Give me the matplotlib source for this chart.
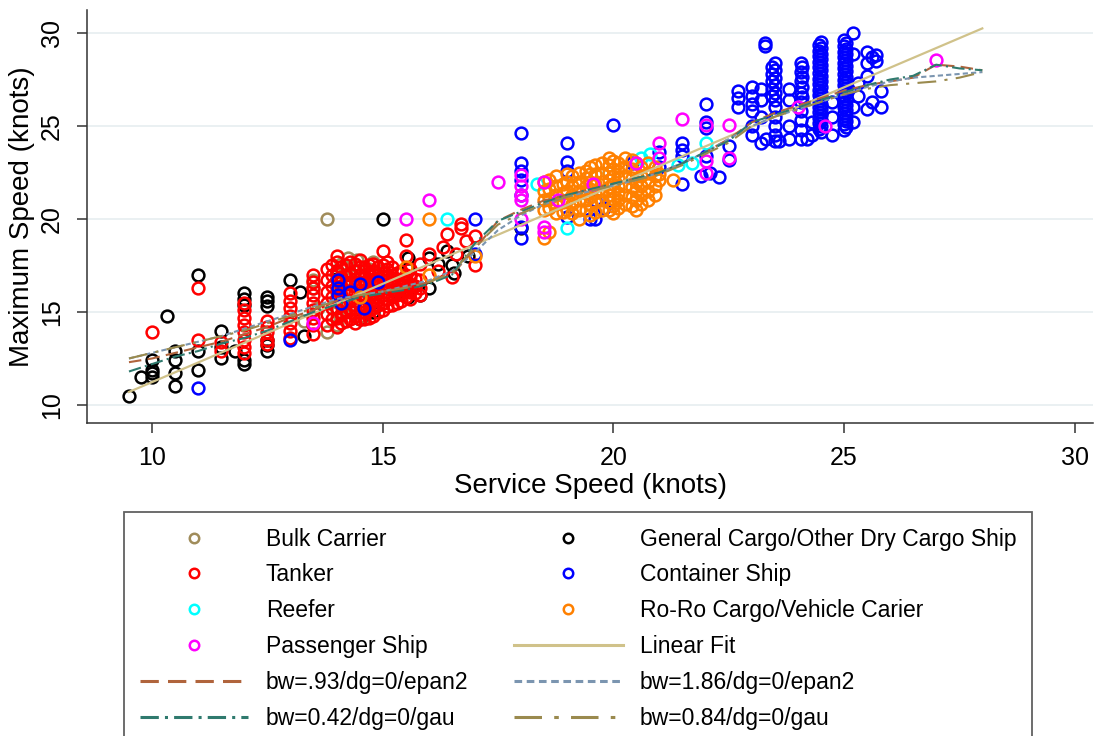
import matplotlib.pyplot as plt

plt.rcParams['font.family'] = ['Liberation Sans', 'DejaVu Sans']

# ship data: (service speed, [maximum speeds]) in knots
bulk = [(13.3, [14.5]), (13.5, [16.3, 16.7]), (13.6, [15.2]), (13.8, [20.0, 13.9]),
        (14.0, [14.3, 15.0, 16.0]), (14.1, [17.6]), (14.2, [16.8, 17.4]), (14.25, [17.9]),
        (14.3, [15.4]), (14.4, [17.5]), (14.45, [17.8]), (14.5, [16.2, 17.0]), (14.6, [14.8]),
        (14.7, [17.3]), (14.8, [17.7, 16.5]), (15.0, [17.2, 15.5]), (15.2, [16.8])]

general = [(9.5, [10.5]), (9.75, [11.5]), (10.0, [11.5, 11.7, 11.9, 12.4]), (10.33, [14.8]),
           (10.5, [11.0, 11.7, 12.4, 12.9]), (11.0, [17.0, 12.9, 11.9]), (11.5, [14.0, 13.1, 12.5]),
           (11.8, [12.9]), (12.0, [16.0, 15.7, 15.4, 12.4, 12.2]),
           (12.5, [15.8, 15.6, 15.3, 13.5, 13.2, 12.9]), (13.0, [16.7]), (13.2, [16.1]),
           (13.3, [13.7]), (14.0, [17.2, 16.8]), (14.5, [14.6]), (14.8, [15.0]), (15.0, [20.0]),
           (15.3, [16.1]), (15.55, [17.9, 17.3, 15.8]), (15.8, [15.9]), (16.0, [17.9, 16.3]),
           (16.2, [17.6]), (16.4, [18.3]), (16.5, [17.5]), (16.55, [17.1]), (16.85, [18.0]),
           (18.0, [19.5])]

tanker = [(10.0, [13.9]), (11.0, [16.3, 13.5]), (11.5, [12.9, 13.4]),
          (12.0, [15.5, 15.1, 14.7, 14.3, 13.9, 13.5, 13.1, 12.8]),
          (12.5, [14.5, 14.2, 13.9, 13.5, 13.3]),
          (13.0, [16.0, 15.6, 15.2, 14.8, 14.4, 14.0, 13.6]),
          (13.5, [17.0, 16.6, 16.3, 15.9, 15.5, 15.1, 14.7, 14.3, 13.8]),
          (13.8, [14.3, 14.9, 15.5, 16.1, 16.7, 17.3]),
          (13.9, [14.6, 15.2, 15.8, 16.4, 17.0, 17.5]),
          (14.0, [14.2, 14.7, 15.2, 15.7, 16.2, 16.7, 17.2, 17.7, 18.0]),
          (14.1, [14.4, 14.9, 15.4, 15.9, 16.4, 16.9, 17.4]),
          (14.2, [14.5, 15.0, 15.5, 16.0, 16.5, 17.0, 17.5]),
          (14.3, [14.6, 15.1, 15.6, 16.1, 16.6, 17.1, 17.7]),
          (14.4, [14.4, 14.8, 15.2, 15.6, 16.0, 16.4, 16.8, 17.2, 17.6]),
          (14.5, [14.6, 15.0, 15.4, 15.8, 16.2, 16.6, 17.0, 17.4, 17.8]),
          (14.6, [14.6, 15.0, 15.4, 15.8, 16.2, 16.6, 17.0, 17.4]),
          (14.7, [14.7, 15.1, 15.5, 15.9, 16.3, 16.7, 17.1, 17.5]),
          (14.8, [14.8, 15.2, 15.6, 16.0, 16.4, 16.8, 17.2, 17.6]),
          (14.9, [15.0, 15.4, 15.8, 16.2, 16.6, 17.0, 17.4]),
          (15.0, [15.1, 15.5, 15.9, 16.3, 16.7, 17.1, 17.5, 18.3]),
          (15.1, [15.3, 15.7, 16.1, 16.5, 16.9, 17.3, 17.7]),
          (15.2, [15.4, 15.8, 16.2, 16.6, 17.0, 17.4]),
          (15.3, [15.5, 15.9, 16.3, 16.7, 17.1]),
          (15.4, [15.6, 16.0, 16.4, 16.8, 17.2]),
          (15.5, [18.85, 18.0, 15.8, 16.2, 16.6, 17.0]),
          (15.6, [15.7, 16.1, 16.5, 16.9, 17.3]),
          (15.7, [16.0, 16.4, 16.8]),
          (15.8, [15.9, 16.3, 16.7, 17.6]),
          (16.0, [18.1]), (16.2, [17.2]), (16.3, [18.5]), (16.4, [19.2]), (16.5, [16.9]),
          (16.6, [18.1]), (16.7, [19.75, 19.5]), (16.8, [18.8]), (17.0, [19.1, 17.5])]

container = [(11.0, [10.9]), (13.0, [13.5]), (14.04, [16.7, 16.3, 15.9]), (14.1, [15.5]),
             (14.3, [16.1]), (14.5, [16.5]), (14.6, [15.2]), (14.9, [16.6]), (17.0, [20.0, 18.1]),
             (18.0, [24.6, 23.0, 22.6, 22.1, 21.3, 19.55, 19.0]),
             (19.0, [24.1, 23.05, 22.6, 20.1]), (19.5, [20.0]), (19.6, [21.0, 20.0]),
             (19.8, [20.6]), (20.0, [25.05]), (20.4, [23.0]), (21.0, [23.6, 22.8]),
             (21.5, [24.1, 23.7, 23.4, 21.9]), (21.9, [22.3]), (22.0, [26.2, 25.2, 24.9, 23.4]),
             (22.1, [22.5]), (22.3, [22.25]), (22.5, [23.9, 23.2]), (22.7, [26.9, 26.5, 26.0]),
             (23.0, [27.1, 26.6, 26.2, 25.8, 25.0, 24.5]), (23.2, [27.0, 26.4, 25.5, 24.1]),
             (23.28, [29.47, 29.3]), (23.3, [24.3]),
             (23.45, [28.2, 27.8, 27.4, 27.0, 26.6]),
             (23.5, [28.4, 28.0, 27.6, 27.2, 26.8, 26.4, 26.0, 25.5, 25.0, 24.5, 24.2]),
             (23.6, [24.2]), (23.8, [27.0, 26.4, 25.0, 24.3]),
             (24.08, [28.4, 27.9, 27.4, 26.8, 26.3, 25.8, 25.3, 24.8, 24.3]),
             (24.1, [28.15, 27.65, 27.1, 26.55]),
             (24.2, [24.3]), (24.3, [24.5, 25.2]),
             (24.45, [29.35, 29.05, 28.75, 28.45, 28.15, 27.85, 27.55, 27.25, 26.95, 26.65,
                      26.35, 26.05, 25.75, 25.45, 25.15, 24.85]),
             (24.5, [29.5, 29.2, 28.9, 28.6, 28.3, 28.0, 27.7, 27.4, 27.1, 26.8, 26.5, 26.2,
                     25.9, 25.6, 25.3, 25.0, 24.7]),
             (24.75, [24.5, 25.5, 26.3]),
             (25.0, [29.6, 29.3, 29.0, 28.7, 28.4, 28.1, 27.8, 27.5, 27.2, 26.9, 26.6, 26.3,
                     26.0, 25.7, 25.4, 25.1, 24.8]),
             (25.05, [29.45, 29.15, 28.85, 28.55, 28.25, 27.95, 27.65, 27.35, 27.05, 26.75,
                      26.45, 26.15, 25.85, 25.55, 25.25, 24.95]),
             (25.2, [30.0, 28.9, 26.0, 25.2]), (25.3, [27.3, 26.6]), (25.5, [29.0, 28.4, 27.7, 25.9]),
             (25.6, [28.7, 26.3]), (25.7, [28.8, 28.5]), (25.8, [26.9, 26.0])]

reefer = [(16.4, [20.0]), (18.35, [21.9]), (19.0, [19.5]), (19.9, [22.5]), (20.6, [23.3]),
          (20.8, [23.5]), (21.4, [22.9]), (21.7, [23.0]), (22.0, [24.1])]

roro = [(14.5, [15.8]), (15.5, [17.4]), (16.0, [20.0, 17.0]), (17.0, [18.0]),
        (18.5, [19.0, 20.5, 21.0, 21.5, 22.0]), (18.6, [19.3, 20.6, 21.1, 21.6, 22.1]),
        (18.75, [20.3, 20.8, 21.3, 21.8, 22.3]), (18.9, [20.4, 20.9, 21.4, 21.9]),
        (19.0, [20.5, 21.0, 21.5, 22.0, 22.4]), (19.1, [20.3, 20.8, 21.3, 21.8, 22.3]),
        (19.25, [20.0, 20.5, 21.0, 21.5, 22.0, 22.5]),
        (19.4, [20.5, 21.0, 21.4, 21.8, 22.2, 22.6]),
        (19.5, [20.2, 20.8, 21.2, 21.6, 22.0, 22.4, 22.8]),
        (19.6, [20.4, 20.9, 21.4, 21.9, 22.4, 22.9]),
        (19.75, [20.5, 21.0, 21.5, 22.0, 22.5, 23.0]),
        (19.9, [20.5, 20.9, 21.3, 21.7, 22.1, 22.5, 22.9, 23.3]),
        (20.0, [20.3, 20.7, 21.1, 21.5, 21.9, 22.3, 22.7, 23.1]),
        (20.1, [20.6, 21.0, 21.4, 21.8, 22.2, 22.6, 23.0]),
        (20.25, [20.8, 21.3, 21.8, 22.3, 22.8, 23.3]),
        (20.4, [20.7, 21.2, 21.7, 22.2, 22.7, 23.2]),
        (20.5, [20.5, 21.0, 21.5, 22.0, 22.5, 23.0]),
        (20.6, [20.8, 21.3, 21.8, 22.3, 22.8]),
        (20.75, [21.0, 21.5, 22.0, 22.5, 23.0]), (20.9, [21.3, 21.8, 22.3, 22.8]),
        (21.0, [22.1, 22.4]), (21.3, [22.1])]

passenger = [(13.5, [14.4]), (15.5, [20.0]), (16.0, [21.0]), (17.5, [22.0]),
             (18.0, [22.35, 21.8, 21.3, 21.0, 20.0]), (18.5, [22.0, 19.55, 19.3]), (18.8, [21.0]),
             (19.55, [21.9]), (20.5, [23.0]), (21.0, [24.1, 23.3]), (21.5, [25.4]),
             (22.0, [25.05, 23.1, 22.5]), (22.5, [25.05, 23.3]), (24.0, [26.0]), (24.6, [25.0]),
             (27.0, [28.55])]

# fitted lines
fit_x = [9.5, 28.0]
fit_y = [10.7, 30.25]

kern_x = [9.5, 10, 10.5, 11, 11.5, 12, 12.5, 13, 13.5, 14, 14.5, 15, 15.5, 16, 16.5, 17, 17.5,
          18, 18.5, 19, 19.5, 20, 20.5, 21, 21.5, 22, 22.5, 23, 23.5, 24, 24.5, 25, 25.5, 26,
          26.5, 27, 27.5, 28]
bw093_epan = [12.3, 12.5, 12.8, 13.1, 13.4, 13.8, 14.2, 14.7, 15.1, 15.6, 15.9, 16.1, 16.3, 16.6,
              17.0, 18.4, 19.9, 20.5, 21.0, 21.3, 21.6, 21.9, 22.2, 22.5, 23.0, 23.6, 24.3, 25.2,
              25.7, 26.1, 26.5, 26.9, 27.2, 27.4, 27.6, 28.3, 28.2, 28.0]
bw186_epan = [12.5, 12.8, 13.1, 13.4, 13.7, 14.1, 14.5, 14.9, 15.3, 15.7, 15.9, 16.1, 16.4, 16.7,
              17.2, 18.2, 19.4, 20.2, 20.8, 21.2, 21.5, 21.8, 22.1, 22.5, 23.0, 23.6, 24.3, 25.0,
              25.5, 25.9, 26.3, 26.7, 27.1, 27.4, 27.6, 27.7, 27.8, 27.9]
bw042_gau = [11.8, 12.2, 12.6, 12.9, 13.3, 13.6, 14.0, 14.5, 15.0, 15.4, 15.8, 16.0, 16.2, 16.5,
             17.0, 18.7, 19.9, 20.4, 20.9, 21.3, 21.6, 21.9, 22.2, 22.5, 23.0, 23.6, 24.2, 25.2,
             25.6, 26.0, 26.4, 26.8, 27.2, 27.5, 27.7, 28.3, 28.1, 28.0]
bw084_gau = [12.5, 12.8, 13.1, 13.4, 13.7, 14.0, 14.4, 14.8, 15.2, 15.6, 15.9, 16.1, 16.3, 16.6,
             17.1, 18.5, 19.7, 20.3, 20.8, 21.2, 21.5, 21.8, 22.1, 22.4, 22.9, 23.5, 24.1, 25.0,
             25.5, 25.9, 26.3, 26.7, 27.0, 27.2, 27.3, 27.4, 27.6, 27.9]


def unpack(cols):
    xs, ys = [], []
    for x, vals in cols:
        for v in vals:
            xs.append(x)
            ys.append(v)
    return xs, ys


fig = plt.figure(figsize=(10.95, 7.36), dpi=100)
ax = fig.add_axes([87 / 1095, 1 - 423 / 736, 1006 / 1095, 413 / 736])

groups = [
    (bulk, '#a08c5a', 'Bulk Carrier'),
    (general, 'black', 'General Cargo/Other Dry Cargo Ship'),
    (tanker, '#ff0000', 'Tanker'),
    (container, '#0000ff', 'Container Ship'),
    (reefer, '#00ffff', 'Reefer'),
    (roro, '#ff8000', 'Ro-Ro Cargo/Vehicle Carier'),
    (passenger, '#ff00ff', 'Passenger Ship'),
]
h = {}
for cols, col, name in groups:
    xs, ys = unpack(cols)
    h[name], = ax.plot(xs, ys, 'o', mfc='none', mec=col, ms=8.5, mew=1.8, label=name)

h['Linear Fit'], = ax.plot(fit_x, fit_y, color='#d0c28a', lw=1.6, label='Linear Fit')
h['bw=.93/dg=0/epan2'], = ax.plot(kern_x, bw093_epan, color='#b0643c', lw=1.5,
                                  ls=(0, (6, 3)), label='bw=.93/dg=0/epan2')
h['bw=1.86/dg=0/epan2'], = ax.plot(kern_x, bw186_epan, color='#7b95b0', lw=1.5,
                                   ls=(0, (2.5, 1.5)), label='bw=1.86/dg=0/epan2')
h['bw=0.42/dg=0/gau'], = ax.plot(kern_x, bw042_gau, color='#2f7a6e', lw=1.5,
                                 ls=(0, (6, 2, 1, 2)), label='bw=0.42/dg=0/gau')
h['bw=0.84/dg=0/gau'], = ax.plot(kern_x, bw084_gau, color='#9a8a4e', lw=1.5,
                                 ls=(0, (9, 4, 1.5, 4)), label='bw=0.84/dg=0/gau')

ax.set_xlim(8.59, 30.4)
ax.set_ylim(9.03, 31.24)
ax.set_xticks([10, 15, 20, 25, 30])
ax.set_yticks([10, 15, 20, 25, 30])
ax.yaxis.grid(True, color='#e6eef0', lw=1.2)
ax.set_axisbelow(True)
for s in ['top', 'right']:
    ax.spines[s].set_visible(False)
for s in ['left', 'bottom']:
    ax.spines[s].set_color('#333333')
    ax.spines[s].set_linewidth(1.1)
ax.tick_params(direction='out', length=7.5, width=1.1, color='#333333', labelsize=18, pad=9)
plt.setp(ax.get_yticklabels(), rotation=90, va='center')
ax.set_xlabel('Service Speed (knots)', fontsize=20, labelpad=2)
ax.set_ylabel('Maximum Speed (knots)', fontsize=20, labelpad=4)

order = ['Bulk Carrier', 'Tanker', 'Reefer', 'Passenger Ship', 'bw=.93/dg=0/epan2',
         'bw=0.42/dg=0/gau', 'General Cargo/Other Dry Cargo Ship', 'Container Ship',
         'Ro-Ro Cargo/Vehicle Carier', 'Linear Fit', 'bw=1.86/dg=0/epan2', 'bw=0.84/dg=0/gau']
leg = fig.legend([h[k] for k in order], order, loc='upper left',
                 bbox_to_anchor=(124 / 1095, 1 - 512 / 736), ncol=2, fontsize=16.5,
                 frameon=True, fancybox=False, edgecolor='#3a3a3a', borderpad=0.68,
                 handlelength=4.75, handletextpad=0.75, columnspacing=2.0, labelspacing=0.56,
                 markerscale=0.8, borderaxespad=0)
leg.get_frame().set_linewidth(1.3)
for ln in leg.get_lines():
    ln.set_linewidth(2.2)

fig.savefig('out.png', dpi=100)
